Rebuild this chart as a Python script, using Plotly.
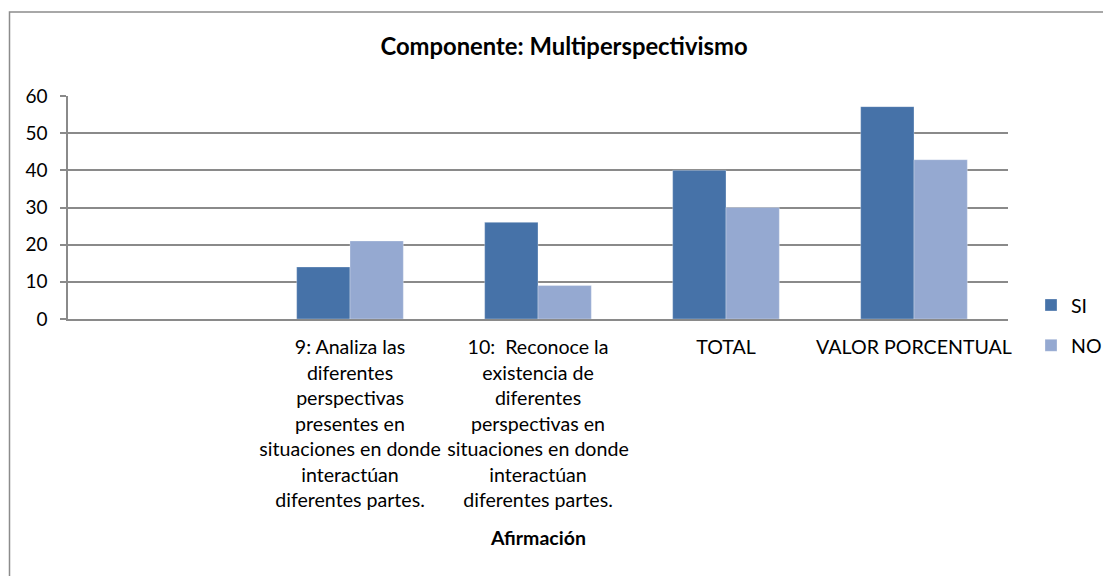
import plotly.graph_objects as go

categories = [
    "",
    "9: Analiza las<br>diferentes<br>perspectivas<br>presentes en<br>situaciones en donde<br>interactúan<br>diferentes partes.",
    "10:  Reconoce la<br>existencia de<br>diferentes<br>perspectivas en<br>situaciones en donde<br>interactúan<br>diferentes partes.",
    "TOTAL",
    "VALOR PORCENTUAL",
]
si_values = [None, 14, 26, 40, 57.14]
no_values = [None, 21, 9, 30, 42.86]
y_ticks = [0, 10, 20, 30, 40, 50, 60]

title_text = "<b>Componente: Multiperspectivismo</b>"
x_title = "<b>Afirmación</b>"

positions = list(range(len(categories)))

FONT = "Lato, Carlito, Calibri, sans-serif"
GRID = "#8a8a8a"

# the page body has an 8px margin; work in page pixels and subtract it
OFF = 8
W, H = 1111 - OFF, 576 - OFF
L, R, T, B = 68 - OFF, 1008 - OFF, 95.7 - OFF, 319.3 - OFF

fig = go.Figure()
fig.add_trace(go.Bar(x=positions, y=si_values, name="SI",
                     marker=dict(color="#4672A8", line=dict(color="rgba(255,255,255,0.5)", width=0.6)),
                     legendgroup="si"))
fig.add_trace(go.Bar(x=positions, y=no_values, name="NO",
                     marker=dict(color="#95A9D1", line=dict(color="rgba(255,255,255,0.5)", width=0.6)),
                     legendgroup="no"))

fig.update_layout(
    width=W, height=H,
    margin=dict(l=L, r=W - R, t=T, b=H - B, autoexpand=False),
    paper_bgcolor="white", plot_bgcolor="white",
    font=dict(family=FONT, size=20, color="#000000"),
    barmode="group", bargap=0.4326, bargroupgap=0,
    title=dict(text=title_text, x=(564 - OFF) / W, xref="container", xanchor="center",
               y=1 - (46.7 - OFF) / H, yref="container", yanchor="middle",
               font=dict(family=FONT, size=23.8, color="#000000")),
    legend=dict(x=(1031 - OFF - L) / (R - L), xanchor="left",
                y=(B - (286 - OFF)) / (B - T), yanchor="top",
                font=dict(family=FONT, size=19.5), tracegroupgap=12, traceorder="grouped",
                bgcolor="rgba(0,0,0,0)"),
    showlegend=True,
)

fig.update_xaxes(
    range=[-0.5, len(categories) - 0.5],
    tickmode="array", tickvals=positions, ticktext=categories,
    showgrid=False, showline=True, linecolor=GRID, linewidth=1.5,
    ticks="", tickfont=dict(family=FONT, size=19.6), tickangle=0,
    ticklabelstandoff=10,
    zeroline=False,
)
fig.update_yaxes(
    range=[0, 60], tickmode="array", tickvals=y_ticks,
    showgrid=True, gridcolor=GRID, gridwidth=1.5,
    showline=True, linecolor=GRID, linewidth=1.5,
    ticks="outside", ticklen=6, tickcolor=GRID, tickwidth=1.5,
    ticklabelstandoff=9,
    tickfont=dict(family=FONT, size=19), zeroline=False,
)

fig.add_annotation(text=x_title, xref="paper", yref="paper", x=0.5,
                   y=(B - (538 - OFF)) / (B - T),
                   xanchor="center", yanchor="middle", showarrow=False,
                   font=dict(family=FONT, size=19.5, color="#000000"))

# chart area border (left and top edges visible)
fig.add_shape(type="rect", xref="paper", yref="paper",
              x0=(9.5 - OFF - L) / (R - L), x1=(W + 20 - L) / (R - L),
              y0=(B - (H + 20)) / (B - T), y1=(B - (11.5 - OFF)) / (B - T),
              line=dict(color="#8c8c8c", width=1.5), fillcolor="rgba(0,0,0,0)", layer="below")

fig.write_html("out.html")
